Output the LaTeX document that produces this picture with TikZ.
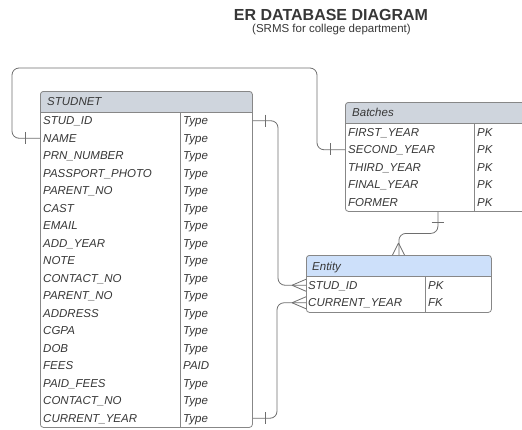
\documentclass[tikz,border=0pt]{standalone}
\usepackage{fontspec}
\setmainfont{Liberation Sans}
\usetikzlibrary{calc}
\definecolor{hdrgray}{RGB}{207,213,221}
\definecolor{hdrblue}{RGB}{205,224,250}
\definecolor{bordergray}{RGB}{135,135,135}
\definecolor{linegray}{RGB}{110,110,110}
\definecolor{txt}{RGB}{55,55,55}
\tikzset{
  cell/.style={anchor=west, inner sep=0pt, text height=8.2pt, text depth=0pt,
    font=\fontsize{11.5}{12}\selectfont\itshape, text=txt},
  frame/.style={draw=bordergray, line width=0.8pt, rounded corners=3pt,
    anchor=north west, inner sep=0pt, fill=white},
  hdrfill/.style={path picture={\fill[#1] (path picture bounding box.north west)
    rectangle ([yshift=-21.5pt]path picture bounding box.north east);}},
  sep/.style={draw=bordergray, line width=0.8pt},
  conn/.style={draw=linegray, line width=0.8pt, rounded corners=7pt},
  tickmark/.style={draw=linegray, line width=0.8pt},
}
\begin{document}
\begin{tikzpicture}[x=1pt,y=-1pt]
\useasboundingbox (0,0) rectangle (522,429);
% title
\node[font=\bfseries\fontsize{16}{18}\selectfont, text=txt] (title) at (331,15) {ER DATABASE DIAGRAM};
\node[font=\fontsize{11.5}{13}\selectfont, text=txt] (subtitle) at (331.5,30) {(SRMS for college department)};

% STUDNET table
\node[frame, hdrfill=hdrgray, minimum width=212pt, minimum height=336pt] (stud) at (40,91) {};
\draw[sep] (40,112) -- (252,112);
\draw[sep] (180,112) -- (180,427);
\node[cell] (studh) at (47,101.5) {STUDNET};
\foreach \n/\t [count=\i] in {STUD\_ID/Type, NAME/Type, PRN\_NUMBER/Type, PASSPORT\_PHOTO/Type,
  PARENT\_NO/Type, CAST/Type, EMAIL/Type, ADD\_YEAR/Type, NOTE/Type, CONTACT\_NO/Type,
  PARENT\_NO/Type, ADDRESS/Type, CGPA/Type, DOB/Type, FEES/PAID, PAID\_FEES/Type,
  CONTACT\_NO/Type, CURRENT\_YEAR/Type}{
  \node[cell] (s\i) at (43,{112+17.5*\i-8.75}) {\n};
  \node[cell] (st\i) at (183,{112+17.5*\i-8.75}) {\t};
}

% Batches table
\node[frame, hdrfill=hdrgray, minimum width=185pt, minimum height=109pt] (bat) at (345,102) {};
\draw[sep] (345,123.5) -- (530,123.5);
\draw[sep] (474,123.5) -- (474,211);
\node[cell] (bath) at (352,112.5) {Batches};
\foreach \n [count=\i] in {FIRST\_YEAR, SECOND\_YEAR, THIRD\_YEAR, FINAL\_YEAR, FORMER}{
  \node[cell] (b\i) at (348,{123.5+17.5*\i-8.75}) {\n};
  \node[cell] (bt\i) at (477,{123.5+17.5*\i-8.75}) {PK};
}

% Entity table
\node[frame, hdrfill=hdrblue, minimum width=185pt, minimum height=57pt] (ent) at (306,255) {};
\draw[sep] (306,276.5) -- (491,276.5);
\draw[sep] (425,276.5) -- (425,312);
\node[cell] (enth) at (312,266) {Entity};
\node[cell] (e1) at (308,285.25) {STUD\_ID};
\node[cell] (et1) at (428,285.25) {PK};
\node[cell] (e2) at (308,302.75) {CURRENT\_YEAR};
\node[cell] (et2) at (428,302.75) {FK};

% connectors
\draw[conn] (stud.west |- s2) -| (12,68) -- (317,68) |- (bat.west |- b2);
\draw[tickmark] (25,131.75) -- (25,143.75);
\draw[tickmark] (330,143.25) -- (330,155.25);

\draw[conn] (stud.east |- s1) -| ($(ent.west |- e1)+(-28,0)$) -- (ent.west |- e1);
\draw[tickmark] (265,114.5) -- (265,126.5);
\draw[tickmark] (292,285.25) -- (306,279.25) (292,285.25) -- (306,291.25);

\draw[conn] (stud.east |- s18) -| ($(ent.west |- e2)+(-29,0)$) -- (ent.west |- e2);
\draw[tickmark] (265,412) -- (265,424);
\draw[tickmark] (292,302.75) -- (306,296.75) (292,302.75) -- (306,308.75);

\draw[conn] (bat.south) |- ($(bat.south)!0.5!(ent.north)$) -| (ent.north);
\draw[tickmark] (431.5,222) -- (443.5,222);
\draw[tickmark] (398.5,243) -- (392.5,255) (398.5,243) -- (404.5,255);
\end{tikzpicture}
\end{document}
